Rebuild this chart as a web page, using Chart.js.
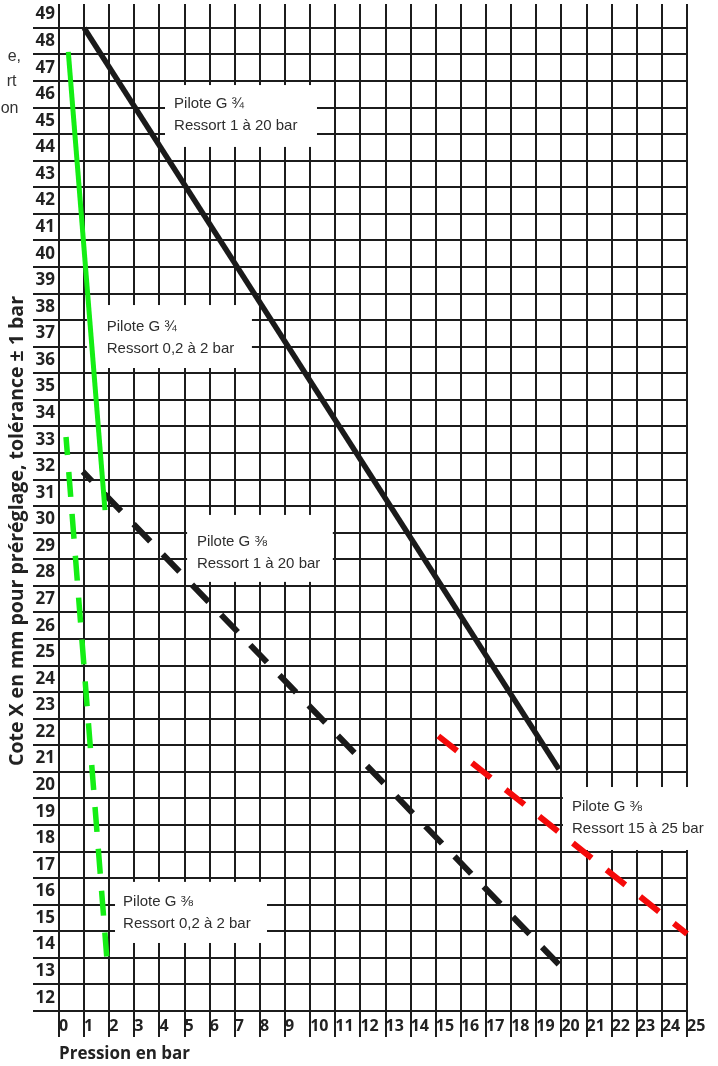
<!DOCTYPE html>
<html>
<head>
<meta charset="utf-8">
<script src="https://cdn.jsdelivr.net/npm/chart.js@4"></script>
<style>
  html, body { margin: 0; padding: 0; background: #fff; }
  canvas { display: block; }
</style>
</head>
<body>
<canvas id="chart" width="718" height="1066"></canvas>
<script>
// Tick values on both axes
const pressureTicks = [0, 1, 2, 3, 4, 5, 6, 7, 8, 9, 10, 11, 12, 13, 14, 15, 16, 17, 18, 19, 20, 21, 22, 23, 24, 25];
const coteTicks = [12, 13, 14, 15, 16, 17, 18, 19, 20, 21, 22, 23, 24, 25, 26, 27, 28, 29, 30,
  31, 32, 33, 34, 35, 36, 37, 38, 39, 40, 41, 42, 43, 44, 45, 46, 47, 48, 49];

// Series: pression (bar) and cote X (mm)
const seriesNames = ["Pilote G ¾ Ressort 1 à 20 bar", "Pilote G ¾ Ressort 0,2 à 2 bar",
  "Pilote G ⅜ Ressort 1 à 20 bar", "Pilote G ⅜ Ressort 0,2 à 2 bar", "Pilote G ⅜ Ressort 15 à 25 bar"];
const g34Ressort1a20X = [1, 19.9];
const g34Ressort1a20Y = [48.5, 20.6];
const g34Ressort02a2X = [0.37, 1.83];
const g34Ressort02a2Y = [47.6, 30.35];
const g38Ressort1a20X = [0.95, 19.9];
const g38Ressort1a20Y = [31.8, 13.25];
const g38Ressort02a2X = [0.28, 1.9];
const g38Ressort02a2Y = [33.1, 13.55];
const g38Ressort15a25X = [15.1, 25];
const g38Ressort15a25Y = [21.85, 14.4];

// Label texts of the boxes
const noteTitles = ["Pilote G ¾", "Pilote G ¾", "Pilote G ⅜", "Pilote G ⅜", "Pilote G ⅜"];
const noteSprings = ["Ressort 1 à 20 bar", "Ressort 0,2 à 2 bar", "Ressort 1 à 20 bar", "Ressort 15 à 25 bar", "Ressort 0,2 à 2 bar"];

// where the boxes sit, in axis units
const notePlaces = [
  { x0: 4.22, x1: 10.27, y0: 46.35, y1: 44.02, tx: 4.58, ty: 45.64 },
  { x0: 1.11, x1: 7.68, y0: 38.07, y1: 35.7, tx: 1.9, ty: 37.24 },
  { x0: 5.1, x1: 10.9, y0: 30.17, y1: 27.65, tx: 5.49, ty: 29.15 },
  { x0: 20.06, x1: 26.2, y0: 19.93, y1: 17.56, tx: 20.42, ty: 19.18 },
  { x0: 2.23, x1: 8.28, y0: 16.36, y1: 14.06, tx: 2.55, ty: 15.6 }
];

const yTitle = 'Cote X en mm pour préréglage, tolérance ± 1 bar';

const toPoints = (xs, ys) => xs.map((v, i) => ({ x: v, y: ys[i] }));

const notesPlugin = {
  id: 'notes',
  beforeDatasetsDraw(chart) {
    const { ctx, scales: { x, y } } = chart;
    ctx.save();
    ctx.font = '15px "Liberation Sans", Arial, sans-serif';
    ctx.textBaseline = 'middle';
    notePlaces.forEach((p, i) => {
      const l = x.getPixelForValue(p.x0), r = x.getPixelForValue(p.x1);
      const t = y.getPixelForValue(p.y0), b = y.getPixelForValue(p.y1);
      ctx.fillStyle = '#fff';
      ctx.fillRect(l, t, r - l, b - t);
      ctx.fillStyle = '#2e2e2e';
      const tx = x.getPixelForValue(p.tx), ty = y.getPixelForValue(p.ty);
      ctx.fillText(noteTitles[i], tx, ty);
      ctx.fillText(noteSprings[i], tx, ty + 22);
    });
    ctx.restore();
  }
};

// bits of a caption cut off at the left edge + the rotated y title
const cutTexts = ["e,", "rt", "on"];
const extrasPlugin = {
  id: 'extras',
  afterDraw(chart) {
    const ctx = chart.ctx;
    ctx.save();
    ctx.font = '16px "Liberation Sans", Arial, sans-serif';
    ctx.fillStyle = '#333';
    ctx.textAlign = 'right';
    ctx.textBaseline = 'middle';
    const rights = [21, 16.5, 18.5];
    const ys = [57, 82, 109];
    cutTexts.forEach((s, i) => ctx.fillText(s, rights[i], ys[i]));

    ctx.translate(17, 531);
    ctx.rotate(-Math.PI / 2);
    ctx.textAlign = 'center';
    ctx.fillStyle = '#222';
    ctx.font = 'bold 19.5px "Open Sans", sans-serif';
    ctx.fillText(yTitle, 0, 0);
    ctx.restore();
  }
};

const gridColor = '#1c1c1c';
const labelFont = { family: '"Open Sans", sans-serif', weight: 'bold' };

new Chart(document.getElementById('chart'), {
  type: 'scatter',
  data: {
    datasets: [
      { label: seriesNames[0], data: toPoints(g34Ressort1a20X, g34Ressort1a20Y), borderColor: '#1a1a1a', borderWidth: 5.5 },
      { label: seriesNames[1], data: toPoints(g34Ressort02a2X, g34Ressort02a2Y), borderColor: '#14ee14', borderWidth: 5 },
      { label: seriesNames[2], data: toPoints(g38Ressort1a20X, g38Ressort1a20Y), borderColor: '#1a1a1a', borderWidth: 6,
        borderDash: [24, 18], borderDashOffset: 11 },
      { label: seriesNames[3], data: toPoints(g38Ressort02a2X, g38Ressort02a2Y), borderColor: '#14ee14', borderWidth: 5.5,
        borderDash: [25, 17], borderDashOffset: 7 },
      { label: seriesNames[4], data: toPoints(g38Ressort15a25X, g38Ressort15a25Y), borderColor: '#f50a0a', borderWidth: 6,
        borderDash: [24, 19] }
    ].map(d => Object.assign({ showLine: true, pointRadius: 0, pointHoverRadius: 0, fill: false, clip: false }, d))
  },
  options: {
    responsive: false,
    animation: false,
    layout: { padding: { top: 4, right: 31, left: 0, bottom: 0 } },
    plugins: { legend: { display: false }, tooltip: { enabled: false } },
    scales: {
      x: {
        type: 'linear',
        min: 0,
        max: 25,
        afterBuildTicks: s => { s.ticks = pressureTicks.map(v => ({ value: v })); },
        afterFit: s => { s.height = 55; },
        border: { display: false },
        grid: { color: gridColor, lineWidth: 2, tickLength: 26 },
        ticks: { autoSkip: false, maxRotation: 0, align: 'start', padding: -20, color: '#222',
          font: Object.assign({ size: 16 }, labelFont) },
        title: { display: true, text: 'Pression en bar', align: 'start', color: '#222',
          font: Object.assign({ size: 17 }, labelFont), padding: { top: 0, bottom: 2 } }
      },
      y: {
        type: 'linear',
        min: 11.5,
        max: 49.4,
        afterBuildTicks: s => { s.ticks = coteTicks.map(v => ({ value: v })); },
        afterFit: s => { s.width = 59; },
        border: { display: false },
        grid: { color: gridColor, lineWidth: 2, tickLength: 26, offset: true },
        ticks: { autoSkip: false, padding: -22, color: '#222',
          font: Object.assign({ size: 17 }, labelFont) },
        title: { display: false }
      }
    }
  },
  plugins: [notesPlugin, extrasPlugin]
});
</script>
</body>
</html>
